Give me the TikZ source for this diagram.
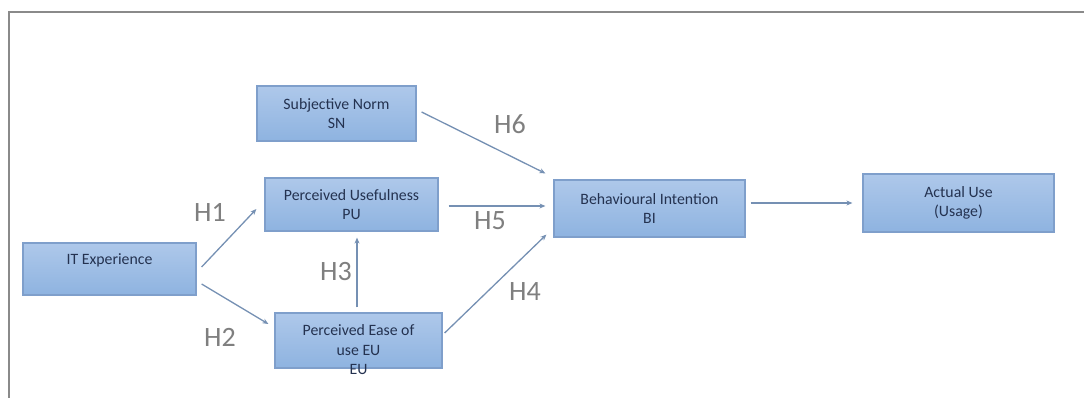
\documentclass[tikz,border=0pt]{standalone}
\usepackage{fontspec}
\setmainfont{Carlito}
\usetikzlibrary{arrows.meta}
\definecolor{boxtop}{HTML}{AEC8EA}
\definecolor{boxbot}{HTML}{8EB3E0}
\definecolor{boxline}{HTML}{7F9FCB}
\definecolor{boxtext}{HTML}{243250}
\definecolor{arrowcol}{HTML}{7590B3}
\definecolor{hcol}{HTML}{7F7F7F}
\definecolor{framecol}{HTML}{8A8A8A}
\tikzset{
  box/.style={draw=boxline, line width=1.2pt, top color=boxtop, bottom color=boxbot,
    inner sep=0pt, align=center, text=boxtext,
    font=\fontsize{15.8}{19.5}\selectfont},
  boxlbl/.style={inner sep=0pt, align=center, text=boxtext,
    font=\fontsize{15.8}{19.5}\selectfont},
  conn/.style={draw=arrowcol, line width=1.3pt, -{Stealth[length=6pt,width=5pt]}},
  hyp/.style={text=hcol, inner sep=0pt, font=\fontsize{28}{30}\selectfont}
}
\begin{document}
\begin{tikzpicture}[x=1pt,y=-1pt]
\useasboundingbox (0,0) rectangle (1084,398);
% frame
\draw[framecol, line width=1.8pt] (9,398) -- (9,12) -- (1084,12);
% boxes
\node[box, minimum width=159pt, minimum height=55pt] (sn) at (336.5,113.5) {Subjective Norm\\SN};
\node[box, minimum width=173pt, minimum height=53pt] (pu) at (351.5,204.5) {Perceived Usefulness\\PU};
\node[box, minimum width=173pt, minimum height=52pt] (it) at (109.5,269) {IT Experience\\\mbox{}};
\node[box, minimum width=167pt, minimum height=55pt] (eu) at (358.5,340.5) {};
\node[boxlbl] (eutext) at (358.5,350) {Perceived Ease of\\use EU\\EU};
\node[box, minimum width=191pt, minimum height=57pt] (bi) at (649.5,208.5) {Behavioural Intention\\BI};
\node[box, minimum width=191pt, minimum height=58pt] (au) at (958.5,203) {Actual Use\\(Usage)};
% connectors
\draw[conn] ([xshift=5pt,yshift=1.5pt]sn.east) -- ([xshift=-8pt,yshift=6pt]bi.north west);
\draw[conn] ([xshift=10pt,yshift=-1.5pt]pu.east) -- ([xshift=-8pt,yshift=2.5pt]bi.west);
\draw[conn] ([xshift=2pt,yshift=7.5pt]eu.east) -- ([xshift=-7pt,yshift=3pt]bi.south west);
\draw[conn] ([xshift=5pt,yshift=2pt]it.east) -- ([xshift=-8pt,yshift=-4.5pt]pu.west);
\draw[conn] ([xshift=5pt,yshift=-15pt]it.east) -- ([xshift=-6pt,yshift=16.5pt]eu.west);
\draw[conn] ([xshift=-1.5pt,yshift=5pt]eu.north) -- ([xshift=5.5pt,yshift=-6pt]pu.south);
\draw[conn] ([xshift=5pt,yshift=5.5pt]bi.east) -- ([xshift=-10pt]au.west);
% hypothesis labels
\node[hyp] (h6) at (510,124) {H6};
\node[hyp] (h1) at (210,212.5) {H1};
\node[hyp] (h5) at (490,221) {H5};
\node[hyp] (h3) at (336,272) {H3};
\node[hyp] (h4) at (525,292) {H4};
\node[hyp] (h2) at (220,337) {H2};
\end{tikzpicture}
\end{document}
